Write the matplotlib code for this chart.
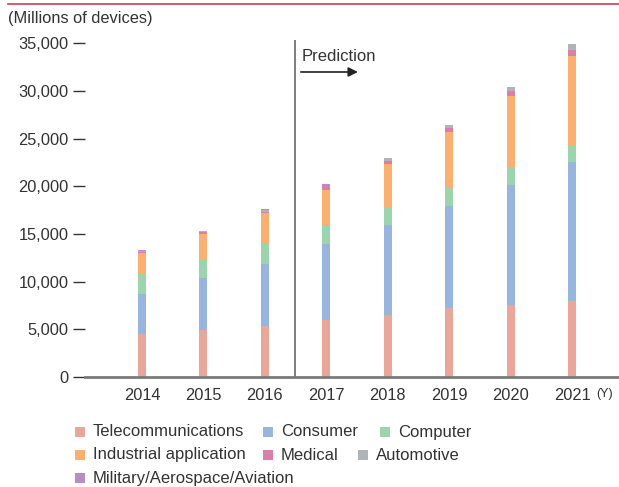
import matplotlib.pyplot as plt
import matplotlib.lines as mlines
import matplotlib.patches as mpatches
import numpy as np

plt.rcParams['font.family'] = ['Liberation Sans', 'DejaVu Sans']

# данные (млн устройств)
years = ['2014', '2015', '2016', '2017', '2018', '2019', '2020', '2021']
tele = [4500, 4900, 5300, 6000, 6550, 7200, 7600, 8000]
consumer = [4250, 5450, 6600, 7900, 9350, 10700, 12500, 14500]
computer = [2000, 1950, 2000, 2000, 1900, 2000, 1900, 1700]
industrial = [2250, 2650, 3250, 3700, 4500, 5750, 7450, 9500]
medical = [130, 280, 200, 480, 320, 420, 500, 630]
automotive = [60, 120, 200, 70, 320, 320, 440, 540]
military = [150, 0, 20, 80, 0, 0, 0, 0]

names = ['Telecommunications', 'Consumer', 'Computer', 'Industrial application',
         'Medical', 'Automotive', 'Military/Aerospace/Aviation']
colors = ['#e9a69b', '#98b5de', '#9cd4ae', '#fcb070', '#dc7eaa', '#b0b3b8', '#b78dc6']
series = [tele, consumer, computer, industrial, medical, automotive, military]

W, H = 619, 487
fig = plt.figure(figsize=(W / 100, H / 100), dpi=100)
ax = fig.add_axes([85 / W, 1 - 377 / H, 1 - 85 / W, (377 - 40) / H])

x = np.arange(len(years))
bottom = np.zeros(len(years))
for vals, c in zip(series, colors):
    ax.bar(x, vals, 0.13, bottom=bottom, color=c, linewidth=0)
    bottom += np.array(vals)

ax.set_xlim(-0.928, 7.765)
ax.set_ylim(0, 35334)
ax.set_yticks(range(0, 35001, 5000))
ax.set_yticklabels([f'{v:,}' for v in range(0, 35001, 5000)])
ax.set_xticks(x)
ax.set_xticklabels(years)

for s in ['left', 'right', 'top']:
    ax.spines[s].set_visible(False)
ax.spines['bottom'].set_color('#7a7a7a')
ax.spines['bottom'].set_linewidth(2)
ax.tick_params(axis='y', length=9, width=1, color='#333333', pad=3,
               labelsize=11.8, labelcolor='#333333')
ax.tick_params(axis='x', length=0, pad=8, labelsize=11.8, labelcolor='#333333')

# граница прогноза
ax.axvline(2.49, color='#666666', linewidth=1.2)
ax.annotate('', xy=(3.56, 31980), xytext=(2.54, 31980),
            arrowprops=dict(arrowstyle='-|>', color='#222222', lw=1.2,
                            mutation_scale=14))
ax.text(2.6, 33600, 'Prediction', fontsize=12, color='#333333', va='center')

fig.text(8 / W, 1 - 18 / H, '(Millions of devices)', fontsize=11.8,
         color='#333333', va='center')
fig.text(596 / W, 1 - 394 / H, '(Y)', fontsize=9, color='#333333', va='center')

# красная линия сверху
fig.add_artist(mlines.Line2D([8 / W, 1], [1 - 3.5 / H, 1 - 3.5 / H],
                             color='#d23c50', linewidth=1.2))

# легенда вручную
pos = [(75, 432), (263, 432), (380, 432),
       (75, 455), (263, 455), (358, 455),
       (75, 478)]
for (px, py), name, c in zip(pos, names, colors):
    fig.add_artist(mpatches.Rectangle((px / W, 1 - (py + 5) / H), 10 / W, 10 / H,
                                      color=c, linewidth=0))
    fig.text((px + 18) / W, 1 - py / H, name, fontsize=12,
             color='#333333', va='center')

fig.savefig('out.png', dpi=100)
